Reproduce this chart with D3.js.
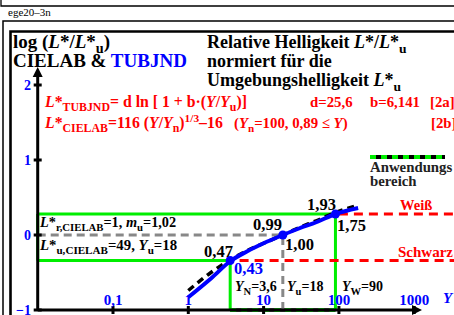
<!DOCTYPE html>
<html>
<head>
<meta charset="utf-8">
<script src="https://cdn.jsdelivr.net/npm/d3@7.9.0/dist/d3.min.js"></script>
<style>
  body { margin: 0; background: #fff; }
  svg { display: block; font-family: "Liberation Serif", "DejaVu Serif", serif; font-weight: bold; }
</style>
</head>
<body>
<div id="chart"></div>
<script>
// x: luminance factor Y (log), y: log10(L*/L*u)
const xTicks = [0.1, 1, 10, 100, 1000];
const xTickLabels = ['0,1', '1', '10', '100', '1000'];
const yTicks = [-1, 0, 1, 2];
const yTickLabels = ['\u22121', '0', '1', '2'];

// blue curve: TUBJND
const tubY = [1, 2, 3.6, 6, 10, 18, 30, 50, 90, 180];
const tubLog = [-0.83, -0.58, -0.35, -0.22, -0.11, 0, 0.09, 0.17, 0.28, 0.36];
// black dashed curve: CIELAB
const labY = [1, 2, 3.6, 6, 10, 18, 30, 50, 90, 170];
const labLog = [-0.74, -0.50, -0.33, -0.21, -0.11, 0, 0.10, 0.19, 0.30, 0.39];

// marked points Y_N, Y_u, Y_W
const markY = [3.6, 18, 90];
const markLog = [-0.34, 0, 0.28];
const blackLabels = ['0,47', '0,99', '1,93'];
const blueLabels = ['0,43', '1,00', '1,75'];
const markNames = ['N', 'u', 'W'];
const markValues = ['3,6', '18', '90'];

// reference levels (log ratio)
const whiteLevel = 0.28;
const blackLevel = -0.34;

const width = 454, height = 315;
const svg = d3.select('#chart').append('svg')
  .attr('width', width).attr('height', height);

const x = d3.scaleLog().domain([0.01, 1000]).range([37.7, 414.2]);
const y = d3.scaleLinear().domain([-1, 2]).range([310, 85]);

// rich text helper: parts = [[text, flags]], flags: i italic, s sub, p sup
function rich(g, px, py, parts, size, fill) {
  const t = g.append('text').attr('x', px).attr('y', py)
    .attr('font-size', size).attr('fill', fill);
  let shift = 0;
  parts.forEach(([txt, f = '']) => {
    let target = 0, fs = size;
    if (f.includes('s')) { target = size * 0.25; fs = size * 0.75; }
    if (f.includes('p')) { target = -size * 0.4; fs = size * 0.72; }
    t.append('tspan')
      .attr('dy', target - shift)
      .attr('font-size', fs)
      .attr('font-style', f.includes('i') ? 'italic' : null)
      .text(txt);
    shift = target;
  });
  return t;
}

// frames
svg.append('path').attr('d', 'M1,-2V6H460').attr('fill', 'none').attr('stroke', '#000').attr('stroke-width', 1.3);
svg.append('path').attr('d', 'M3,330V21H460').attr('fill', 'none').attr('stroke', '#000').attr('stroke-width', 1.5);
svg.append('path').attr('d', 'M10.5,330V31.5H460').attr('fill', 'none').attr('stroke', '#000').attr('stroke-width', 2.6);
svg.append('text').attr('x', 8).attr('y', 16).attr('font-size', 11).attr('font-weight', 'normal').text('ege20\u20133n');

// titles
rich(svg, 13, 48, [['log ('], ['L', 'i'], ['*/'], ['L', 'i'], ['*'], ['u', 's'], [')']], 19, '#000');
const t2 = rich(svg, 13, 67, [['CIELAB & ']], 19, '#000');
t2.append('tspan').attr('fill', '#00f').text('TUBJND');
rich(svg, 207, 48, [['Relative Helligkeit '], ['L', 'i'], ['*/'], ['L', 'i'], ['*'], ['u', 's']], 18, '#000');
rich(svg, 207, 67, [['normiert f\u00fcr die']], 18, '#000');
rich(svg, 207, 86, [['Umgebungshelligkeit '], ['L', 'i'], ['*'], ['u', 's']], 18, '#000');

// red formulas
const red = '#ff0000';
rich(svg, 45, 107, [['L', 'i'], ['*'], ['TUBJND', 's'], ['= d ln [ 1 + b\u00b7('], ['Y', 'i'], ['/'], ['Y', 'i'], ['u', 's'], [')]']], 15.8, red);
rich(svg, 310, 107, [['d=25,6']], 14.8, red);
rich(svg, 370, 107, [['b=6,141']], 14.8, red);
rich(svg, 430, 107, [['[2a]']], 14.8, red);
rich(svg, 45, 128, [['L', 'i'], ['*'], ['CIELAB', 's'], ['=116 ('], ['Y', 'i'], ['/'], ['Y', 'i'], ['n', 's'], [')'], ['1/3', 'p'], ['\u201316']], 15.8, red);
rich(svg, 234, 128, [['('], ['Y', 'i'], ['n', 's'], ['=100, 0,89 \u2264 '], ['Y', 'i'], [')']], 14.8, red);
rich(svg, 431, 128, [['[2b]']], 14.8, red);

// green application range
const green = '#00ee00';
const gr = svg.append('g').attr('fill', 'none').attr('stroke', green).attr('stroke-width', 3);
gr.append('path').attr('d', `M${x(0.01)},${y(whiteLevel)}H${x(markY[2])}V${y(-1)}`);
gr.append('path').attr('d', `M${x(0.01)},${y(blackLevel)}H${x(markY[0])}V${y(-1)}`);
gr.append('path').attr('d', `M${x(0.01)},${y(whiteLevel)}V${y(blackLevel)}`);
svg.append('line').attr('x1', x(markY[0])).attr('x2', x(markY[2]))
  .attr('y1', y(-1)).attr('y2', y(-1)).attr('stroke', '#000').attr('stroke-width', 3.5);
svg.append('line').attr('x1', x(markY[0])).attr('x2', x(markY[2]))
  .attr('y1', y(-1)).attr('y2', y(-1)).attr('stroke', green).attr('stroke-width', 3.5)
  .attr('stroke-dasharray', '6,5');

// gray reference at Y_u
svg.append('path').attr('d', `M${x(0.01)},${y(0)}H${x(markY[1])}V${y(-1)}`)
  .attr('fill', 'none').attr('stroke', '#888').attr('stroke-width', 3).attr('stroke-dasharray', '8,5');

// red white/black levels
svg.append('line').attr('x1', x(100)).attr('x2', 460).attr('y1', y(whiteLevel)).attr('y2', y(whiteLevel))
  .attr('stroke', red).attr('stroke-width', 3).attr('stroke-dasharray', '9,6');
svg.append('line').attr('x1', x(4.8)).attr('x2', 460).attr('y1', y(blackLevel)).attr('y2', y(blackLevel))
  .attr('stroke', red).attr('stroke-width', 3).attr('stroke-dasharray', '9,6');
rich(svg, 400, 210, [['Wei\u00df']], 14.5, red);
rich(svg, 398, 257, [['Schwarz']], 15, red);

// legend
svg.append('line').attr('x1', 370).attr('x2', 445).attr('y1', 157).attr('y2', 157)
  .attr('stroke', '#000').attr('stroke-width', 4);
svg.append('line').attr('x1', 370).attr('x2', 445).attr('y1', 157).attr('y2', 157)
  .attr('stroke', green).attr('stroke-width', 4).attr('stroke-dasharray', '6,5');
rich(svg, 370, 172, [['Anwendungs']], 14.8, '#222');
rich(svg, 370, 186, [['bereich']], 14.8, '#222');

// axes
const ax = svg.append('g').attr('stroke', '#000');
ax.append('line').attr('x1', x(0.01)).attr('x2', 414).attr('y1', y(-1)).attr('y2', y(-1)).attr('stroke-width', 3);
ax.append('path').attr('d', `M422,${y(-1)}l-10,-5v10z`).attr('fill', '#000').attr('stroke', 'none');
ax.append('line').attr('x1', x(0.01)).attr('x2', x(0.01)).attr('y1', y(-1)).attr('y2', 76).attr('stroke-width', 3);
ax.append('path').attr('d', `M${x(0.01)},67l-5,10h10z`).attr('fill', '#000').attr('stroke', 'none');

svg.selectAll('.ytick').data(yTicks).join('line').attr('class', 'ytick')
  .attr('x1', x(0.01) - 4).attr('x2', x(0.01) + 4)
  .attr('y1', d => y(d)).attr('y2', d => y(d)).attr('stroke', '#000').attr('stroke-width', 3);
svg.selectAll('.ylab').data(yTicks).join('text').attr('class', 'ylab')
  .attr('x', 31).attr('y', d => y(d) + 5).attr('text-anchor', 'end')
  .attr('font-size', 14).attr('fill', '#00f').text((d, i) => yTickLabels[i]);

svg.selectAll('.xtick').data(xTicks).join('line').attr('class', 'xtick')
  .attr('x1', d => x(d)).attr('x2', d => x(d))
  .attr('y1', y(-1) - 4).attr('y2', y(-1) + 4).attr('stroke', '#000').attr('stroke-width', 3);
svg.selectAll('.xlab').data(xTicks).join('text').attr('class', 'xlab')
  .attr('x', d => x(d)).attr('y', y(-1) - 5).attr('text-anchor', 'middle')
  .attr('font-size', 15).attr('fill', '#00f').text((d, i) => xTickLabels[i]);
rich(svg, 443, 303, [['Y', 'i']], 15, '#00f');

// curves
const line = d3.line().curve(d3.curveMonotoneX);
svg.append('path')
  .attr('d', line(labY.map((v, i) => [x(v), y(labLog[i])])))
  .attr('fill', 'none').attr('stroke', '#000').attr('stroke-width', 3.5).attr('stroke-dasharray', '7,5');
svg.append('path')
  .attr('d', line(tubY.map((v, i) => [x(v), y(tubLog[i])])))
  .attr('fill', 'none').attr('stroke', '#00f').attr('stroke-width', 4);
svg.selectAll('.dot').data(markY).join('circle').attr('class', 'dot')
  .attr('cx', d => x(d)).attr('cy', (d, i) => y(markLog[i])).attr('r', 4.5).attr('fill', '#00f');

// point labels
const bx = [204, 253, 307], by = [257, 230, 210];
const ux = [234, 285, 337], uy = [274, 250, 231];
blackLabels.forEach((s, i) => rich(svg, bx[i], by[i], [[s]], 16.5, '#000'));
blueLabels.forEach((s, i) => rich(svg, ux[i], uy[i], [[s]], 16.5, i === 0 ? '#00f' : '#000'));
const nx = [235, 287, 342];
markNames.forEach((n, i) => rich(svg, nx[i], 291, [['Y', 'i'], [n, 's'], ['=' + markValues[i]]], 14, '#000'));

// text inside green range
rich(svg, 40, 227, [['L', 'i'], ['*'], ['r,CIELAB', 's'], ['=1, '], ['m', 'i'], ['u', 's'], ['=1,02']], 14.3, '#000');
rich(svg, 40, 250, [['L', 'i'], ['*'], ['u,CIELAB', 's'], ['=49, '], ['Y', 'i'], ['u', 's'], ['=18']], 14.8, '#000');
</script>
</body>
</html>
